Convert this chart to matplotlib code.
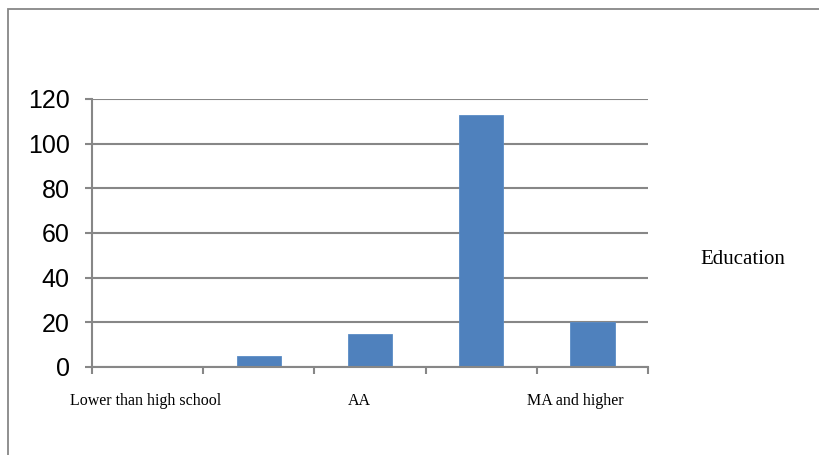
import matplotlib.pyplot as plt
import matplotlib.patches as mpatches
import matplotlib.transforms as mtransforms
import numpy as np

# education levels, only every other one is labelled on the axis
categories = ["Lower than high school", "High school", "AA", "BA", "MA and higher"]
counts = [0, 5, 15, 113, 20]
shown_labels = ["Lower than high school", "", "AA", "", "MA and higher"]
yticks = [0, 20, 40, 60, 80, 100, 120]
series_name = "Education"

grey = "#878787"
bar_color = "#4F81BD"
# small sideways nudges (in points) so the labels sit where Excel put them
label_nudge = [-1.5, 0, -8, 0, -12]

fig = plt.figure(figsize=(8.19, 4.55), dpi=100)
ax = fig.add_axes([92 / 819, 1 - 367 / 455, (648 - 92) / 819, (367 - 99) / 455])

x = np.arange(len(categories))
ax.bar(x, counts, width=0.4, color=bar_color, edgecolor="#5a8cc6", linewidth=0.6, zorder=3)

ax.set_xlim(-0.5, len(categories) - 0.5)
ax.set_ylim(0, 120)
ax.set_yticks(yticks)
ax.set_yticklabels([str(v) for v in yticks], family="Liberation Sans", fontsize=18)
ax.yaxis.grid(True, color=grey, linewidth=1.5, zorder=0)

# category boundaries get the tick marks, labels sit in the middle
ax.set_xticks(np.arange(len(categories) + 1) - 0.5)
ax.set_xticklabels([])
ax.set_xticks(x, minor=True)
ax.set_xticklabels(shown_labels, minor=True, family="Liberation Serif", fontsize=11.5)
ax.tick_params(axis="x", which="minor", length=0, pad=18.5)
ax.tick_params(axis="x", which="major", length=5, width=1.5, color=grey)
ax.tick_params(axis="y", length=5, width=1.5, color=grey, pad=11)

for lab, dx in zip(ax.get_xticklabels(minor=True), label_nudge):
    lab.set_transform(lab.get_transform() + mtransforms.ScaledTranslation(dx / 72, 0, fig.dpi_scale_trans))

for side in ["top", "right"]:
    ax.spines[side].set_visible(False)
for side in ["left", "bottom"]:
    ax.spines[side].set_color(grey)
    ax.spines[side].set_linewidth(1.5)
    ax.spines[side].set_zorder(4)

fig.text(700 / 819, 1 - 259 / 455, series_name, family="Liberation Serif",
         fontsize=15, va="center", ha="left")

# chart area frame, cut off at the right and bottom edges
frame = mpatches.Rectangle((8 / 819, -0.2), 1.2, 1.2 - 9 / 455, transform=fig.transFigure,
                           fill=False, edgecolor=grey, linewidth=1.3)
fig.patches.append(frame)

fig.savefig("out.png", dpi=100)
